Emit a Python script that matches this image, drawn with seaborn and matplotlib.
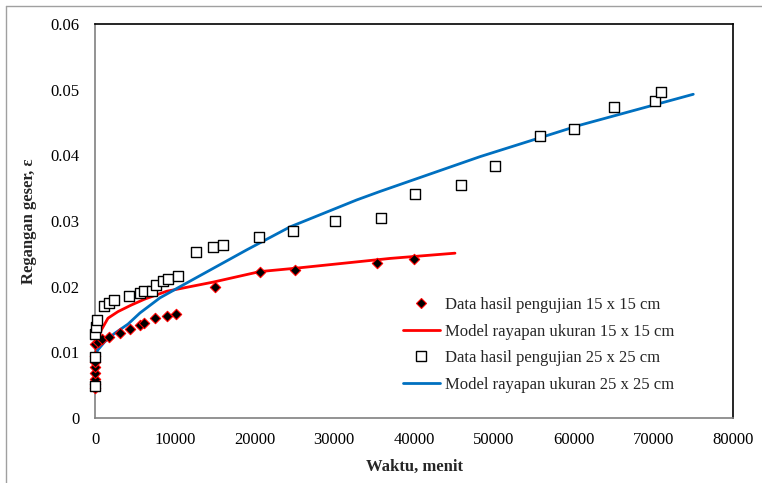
import numpy as np
import pandas as pd
import matplotlib
matplotlib.use("Agg")
import matplotlib.pyplot as plt
import seaborn as sns
from matplotlib.lines import Line2D

# ---- data ----
t_data15 = [0, 0, 0, 0, 0, 0, 0, 0, 380, 900, 1750, 3080, 4330, 5600, 6100,
            7520, 8980, 10150, 15100, 20650, 25080, 35320, 40000]
e_data15 = [0.0045, 0.0052, 0.0060, 0.0068, 0.0077, 0.0086, 0.0095, 0.0112, 0.0116,
            0.0120, 0.0124, 0.0130, 0.0136, 0.0142, 0.0145, 0.0153, 0.0155, 0.0159,
            0.0200, 0.0222, 0.0226, 0.0236, 0.0242]

t_model15 = [0, 300, 790, 1630, 2880, 4550, 6220, 8980, 10660, 14840, 20690,
             25080, 36990, 45140]
e_model15 = [0.0100, 0.0118, 0.0134, 0.0152, 0.0162, 0.0172, 0.0181, 0.0193,
             0.0197, 0.0207, 0.0223, 0.0228, 0.0243, 0.0251]

t_data25 = [0, 0, 0, 100, 200, 1100, 1700, 2350, 4300, 5640, 6180, 7100, 7600,
            8570, 9190, 10440, 12660, 14840, 16080, 20600, 24800, 30090, 35900,
            40080, 45930, 50110, 55830, 60100, 65080, 70260, 71010]
e_data25 = [0.0048, 0.0093, 0.0128, 0.0138, 0.0149, 0.0170, 0.0175, 0.0179,
            0.0186, 0.0191, 0.0193, 0.0194, 0.0203, 0.0209, 0.0211, 0.0216,
            0.0253, 0.0260, 0.0263, 0.0275, 0.0285, 0.0300, 0.0305, 0.0341,
            0.0355, 0.0384, 0.0430, 0.0440, 0.0473, 0.0483, 0.0497]

t_model25 = [0, 0, 380, 1210, 2470, 4140, 5640, 8150, 10660, 14840, 19020,
             24450, 32800, 35740, 48280, 60820, 75020]
e_model25 = [0.0045, 0.0095, 0.0104, 0.0116, 0.0129, 0.0143, 0.0160, 0.0183,
             0.0200, 0.0228, 0.0256, 0.0291, 0.0332, 0.0345, 0.0398, 0.0446, 0.0493]

labels = ["Data hasil pengujian 15 x 15 cm", "Model rayapan ukuran 15 x 15 cm",
          "Data hasil pengujian 25 x 25 cm", "Model rayapan ukuran 25 x 25 cm"]
x_ticks = [0, 10000, 20000, 30000, 40000, 50000, 60000, 70000, 80000]
y_ticks = [0, 0.01, 0.02, 0.03, 0.04, 0.05, 0.06]

sns.set_style("white")
plt.rcParams['font.family'] = ['Liberation Serif', 'DejaVu Serif']

fig = plt.figure(figsize=(7.62, 4.83), dpi=100)
ax = fig.add_axes([95/762, 1-418/483, (733-95)/762, (418-24)/483])

red = "#FF0000"
blue = "#0070C0"

d15 = pd.DataFrame({"t": t_data15, "e": e_data15})
m15 = pd.DataFrame({"t": t_model15, "e": e_model15})
d25 = pd.DataFrame({"t": t_data25, "e": e_data25})
m25 = pd.DataFrame({"t": t_model25, "e": e_model25})

sns.lineplot(data=m15, x="t", y="e", ax=ax, color=red, lw=2.0, sort=False,
             estimator=None, zorder=3)
sns.lineplot(data=m25, x="t", y="e", ax=ax, color=blue, lw=2.0, sort=False,
             estimator=None, zorder=3)
sns.scatterplot(data=d15, x="t", y="e", ax=ax, marker="D", s=28, color="black",
                edgecolor=red, linewidth=0.8, zorder=4, clip_on=False)
sns.scatterplot(data=d25, x="t", y="e", ax=ax, marker="s", s=50, facecolor="white",
                edgecolor="black", linewidth=1.0, zorder=4, clip_on=False)

ax.set_xlim(0, 80000)
ax.set_ylim(0, 0.06)
ax.set_xticks(x_ticks)
ax.set_yticks(y_ticks)
ax.set_xticklabels([str(v) for v in x_ticks], fontsize=12)
ax.set_yticklabels(["0"] + [f"{v:.2f}" for v in y_ticks[1:]], fontsize=12)
ax.tick_params(axis="both", direction="out", length=5, width=1, color="#808080",
               pad=6, labelcolor="black")
ax.tick_params(axis="x", pad=5)

for s in ["left", "bottom"]:
    ax.spines[s].set_color("#808080")
    ax.spines[s].set_linewidth(1.2)
for s in ["top", "right"]:
    ax.spines[s].set_color("black")
    ax.spines[s].set_linewidth(1.2)
    ax.spines[s].set_visible(True)

ax.set_xlabel("Waktu, menit", fontsize=12, fontweight="bold", labelpad=8)
ax.set_ylabel("Regangan geser, ε", fontsize=12, fontweight="bold", labelpad=10)

handles = [
    Line2D([], [], marker="D", ls="none", markersize=5.5, markerfacecolor="black",
           markeredgecolor=red, markeredgewidth=0.8),
    Line2D([], [], color=red, lw=2.0),
    Line2D([], [], marker="s", ls="none", markersize=6.5, markerfacecolor="white",
           markeredgecolor="black", markeredgewidth=1.0),
    Line2D([], [], color=blue, lw=2.0),
]
ax.legend(handles, labels, loc="upper left", bbox_to_anchor=(0.483, 0.307),
          frameon=False, fontsize=12, handlelength=2.2, handletextpad=0.3,
          labelspacing=0.63, borderpad=0, borderaxespad=0)

# outer figure border (left and top visible)
fig.add_artist(Line2D([6/762, 6/762], [0, 1-6/483], transform=fig.transFigure,
                      color="#A0A0A0", lw=1))
fig.add_artist(Line2D([6/762, 1], [1-6/483, 1-6/483], transform=fig.transFigure,
                      color="#A0A0A0", lw=1))

fig.savefig("out.png", dpi=100)
